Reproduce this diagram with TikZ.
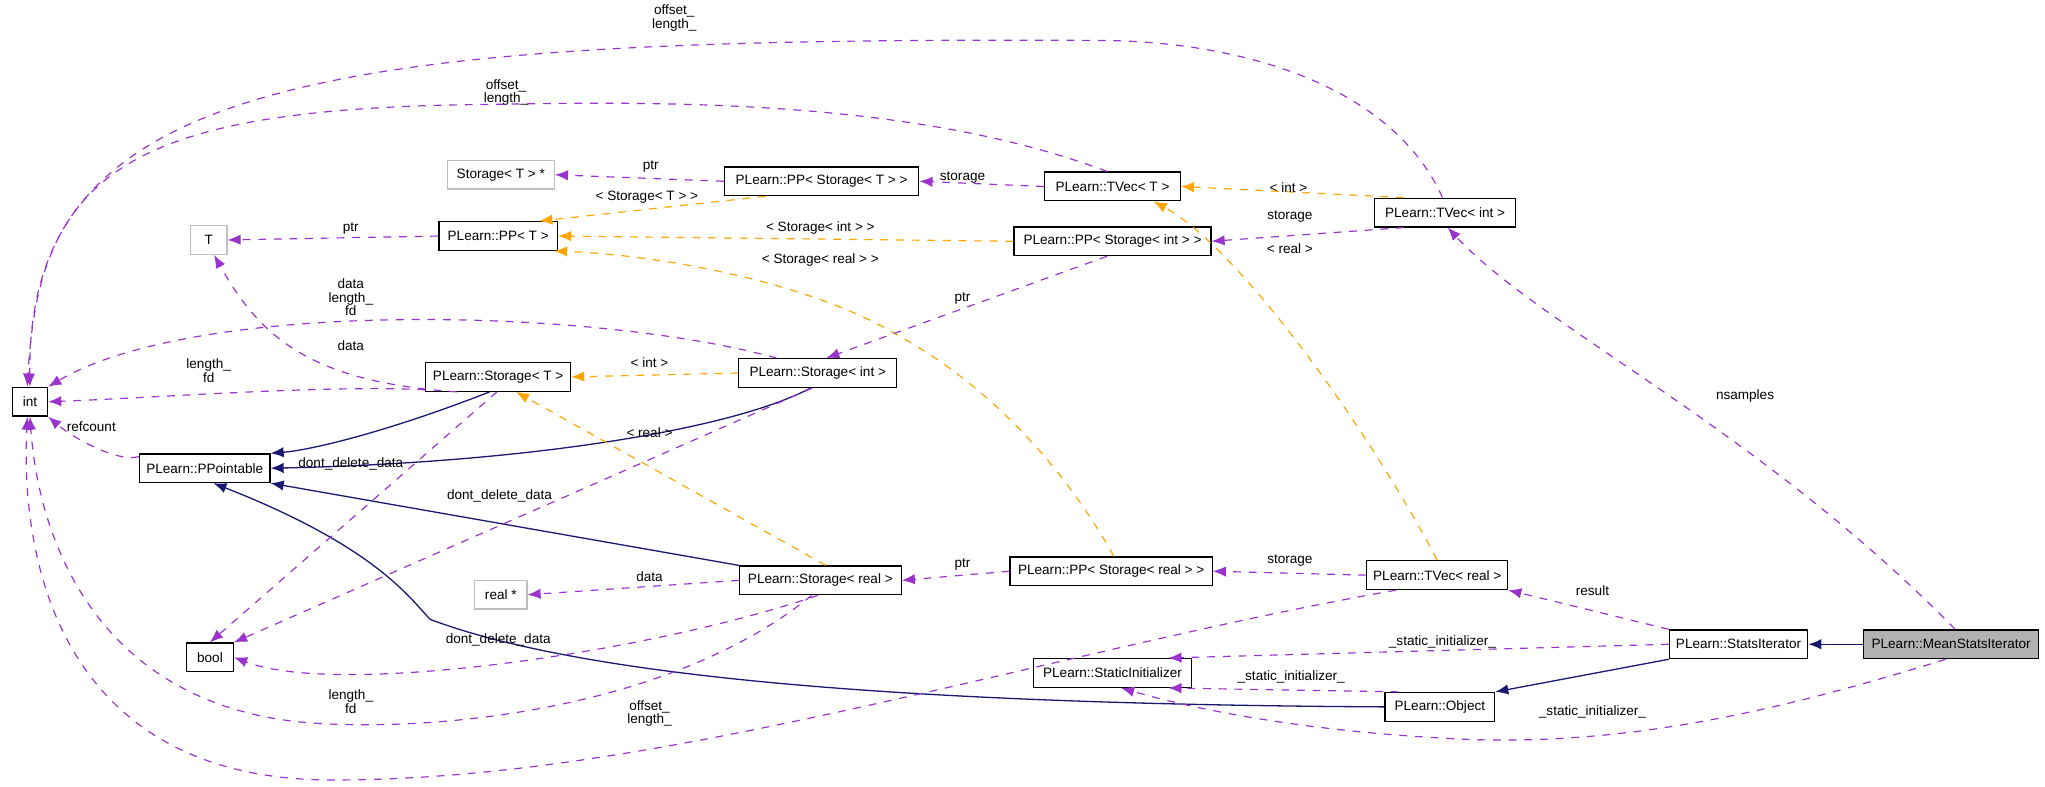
\documentclass[tikz,border=0pt]{standalone}
\usepackage{fontspec}
\setmainfont{Liberation Sans}
\usetikzlibrary{arrows.meta}
\definecolor{pu}{HTML}{9A32CD}
\definecolor{orn}{HTML}{FFA500}
\definecolor{nv}{HTML}{191970}
\begin{document}
\begin{tikzpicture}[x=0.5pt,y=-0.5pt,
  every node/.style={font=\fontsize{5.2}{6.2}\selectfont},
  box/.style={draw=black,fill=white,line width=0.5pt,minimum height=11pt,inner sep=0pt,minimum width=#1*0.5pt},
  gbox/.style={box=#1,draw=gray!50},
  lab/.style={align=center,inner sep=0pt},
  pu/.style={draw=pu,dashed,line width=0.45pt,-{Latex[length=5pt,width=4pt]}},
  or/.style={draw=orn,dashed,line width=0.45pt,-{Latex[length=5pt,width=4pt]}},
  nv/.style={draw=nv,line width=0.5pt,-{Latex[length=5pt,width=4pt]}}]
\useasboundingbox (0,0) rectangle (1568,603);
% nodes
\node[box=27] (int) at (23,308) {int};
\node[box=100] (PPointable) at (157,359) {PLearn::PPointable};
\node[box=36] (bool) at (161,504) {bool};
\node[gbox=28] (T) at (160,184) {T};
\node[gbox=82] (StorTp) at (384,134) {Storage< T > *};
\node[box=91] (PPT) at (382,181) {PLearn::PP< T >};
\node[box=111] (StorT) at (382,289) {PLearn::Storage< T >};
\node[gbox=40] (realp) at (384,456) {real *};
\node[box=149] (PPST) at (630,139) {PLearn::PP< Storage< T > >};
\node[box=104] (TVecT) at (853,143) {PLearn::TVec< T >};
\node[box=108] (TVecInt) at (1108,163) {PLearn::TVec< int >};
\node[box=151] (PPSI) at (853,185) {PLearn::PP< Storage< int > >};
\node[box=121] (StorInt) at (627,286) {PLearn::Storage< int >};
\node[box=124] (StorReal) at (629,445) {PLearn::Storage< real >};
\node[box=155] (PPSR) at (852,438) {PLearn::PP< Storage< real > >};
\node[box=108] (TVecReal) at (1102,441) {PLearn::TVec< real >};
\node[box=106] (Stats) at (1333,494) {PLearn::StatsIterator};
\node[box=134,fill=gray!60] (Mean) at (1496,494) {PLearn::MeanStatsIterator};
\node[box=121] (SI) at (853,516) {PLearn::StaticInitializer};
\node[box=84] (Object) at (1104,542) {PLearn::Object};
% navy inheritance
\draw[nv] (Mean.west) -- (Stats.east);
\draw[nv] (Stats.south west) -- (Object.north east);
\draw[nv] (StorT.-120) .. controls (300,330) and (240,345) .. (PPointable.north east);
\draw[nv] (StorInt.-115) .. controls (560,330) and (400,355) .. (PPointable.east);
\draw[nv] (StorReal.north west) -- (PPointable.south east);
\draw[nv] (Object.west) .. controls (700,540) and (450,520) .. (330,475) .. controls (315,460) and (290,420) .. (PPointable.-60);
% orange template
\draw[or] (PPST.195) -- (PPT.20);
\draw[or] (PPSI.west) -- (PPT.east);
\draw[or] (PPSR.80) .. controls (800,330) and (730,280) .. (690,258) .. controls (620,215) and (500,195) .. (PPT.-15);
\draw[or] (StorInt.west) -- (StorT.east);
\draw[or] (StorReal.70) -- (StorT.-40);
\draw[or] (TVecInt.160) -- (TVecT.east);
\draw[or] (TVecReal.north) .. controls (1050,330) and (950,190) .. (TVecT.-20);
% purple usage
\draw[pu] (PPointable.170) .. controls (90,355) and (55,335) .. (int.south east);
\draw[pu] (StorT.190) .. controls (250,295) and (120,305) .. (int.east);
\draw[pu] (StorInt.160) .. controls (450,235) and (150,230) .. (int.north east);
\draw[pu] (StorT.200) .. controls (240,293) and (200,260) .. (T.-70);
\draw[pu] (TVecT.110) .. controls (700,75) and (500,78) .. (380,80) .. controls (100,82) and (30,130) .. (int.100);
\draw[pu] (TVecInt.100) .. controls (1070,70) and (960,31) .. (840,31) .. controls (250,28) and (20,60) .. (int.north);
\draw[pu] (TVecReal.200) .. controls (800,500) and (500,600) .. (250,598) .. controls (60,596) and (15,450) .. (int.-100);
\draw[pu] (StorReal.-120) .. controls (520,540) and (350,560) .. (250,555) .. controls (80,548) and (30,420) .. (int.south);
\draw[pu] (StorT.-95) -- (bool.north);
\draw[pu] (StorInt.-110) -- (bool.north east);
\draw[pu] (StorReal.-100) .. controls (500,500) and (260,535) .. (bool.east);
\draw[pu] (StorReal.west) -- (realp.east);
\draw[pu] (PPT.west) -- (T.east);
\draw[pu] (PPST.west) -- (StorTp.east);
\draw[pu] (TVecT.west) -- (PPST.east);
\draw[pu] (PPSI.-110) -- (StorInt.60);
\draw[pu] (TVecInt.200) -- (PPSI.east);
\draw[pu] (PPSR.west) -- (StorReal.east);
\draw[pu] (TVecReal.west) -- (PPSR.east);
\draw[pu] (Stats.north west) -- (TVecReal.south east);
\draw[pu] (Mean.75) .. controls (1350,330) and (1180,250) .. (TVecInt.-80);
\draw[pu] (Stats.west) -- (SI.15);
\draw[pu] (Object.160) -- (SI.-15);
\draw[pu] (Mean.-110) .. controls (1380,540) and (1250,575) .. (1107,566) .. controls (1000,560) and (920,545) .. (SI.-60);
% labels
\node[lab] (l1) at (70,327) {refcount};
\node[lab] (l2) at (160,284) {length\_\\[-1pt]fd};
\node[lab] (l3) at (269,228) {data\\[-1pt]length\_\\[-1pt]fd};
\node[lab] (l4) at (269,265) {data};
\node[lab] (l5) at (269,175) {ptr};
\node[lab] (l6) at (499,128) {ptr};
\node[lab] (l7) at (496,151) {< Storage< T > >};
\node[lab] (l8) at (629,175) {< Storage< int > >};
\node[lab] (l9) at (629,199) {< Storage< real > >};
\node[lab] (l10) at (738,136) {storage};
\node[lab] (l11) at (988,144) {< int >};
\node[lab] (l12) at (989,166) {storage};
\node[lab] (l13) at (989,191) {< real >};
\node[lab] (l14) at (738,229) {ptr};
\node[lab] (l15) at (498,278) {< int >};
\node[lab] (l16) at (498,332) {< real >};
\node[lab] (l17) at (269,356) {dont\_delete\_data};
\node[lab] (l18) at (383,380) {dont\_delete\_data};
\node[lab] (l19) at (382,491) {dont\_delete\_data};
\node[lab] (l20) at (498,442) {data};
\node[lab] (l21) at (738,433) {ptr};
\node[lab] (l22) at (989,430) {storage};
\node[lab] (l23) at (269,538) {length\_\\[-1pt]fd};
\node[lab] (l24) at (498,547) {offset\_\\[-1pt]length\_};
\node[lab] (l25) at (517,14) {offset\_\\[-1pt]length\_};
\node[lab] (l26) at (388,71) {offset\_\\[-1pt]length\_};
\node[lab] (l27) at (1338,304) {nsamples};
\node[lab] (l28) at (1221,453) {result};
\node[lab] (l29) at (1106,492) {\_static\_initializer\_};
\node[lab] (l30) at (990,519) {\_static\_initializer\_};
\node[lab] (l31) at (1221,546) {\_static\_initializer\_};
\end{tikzpicture}
\end{document}
